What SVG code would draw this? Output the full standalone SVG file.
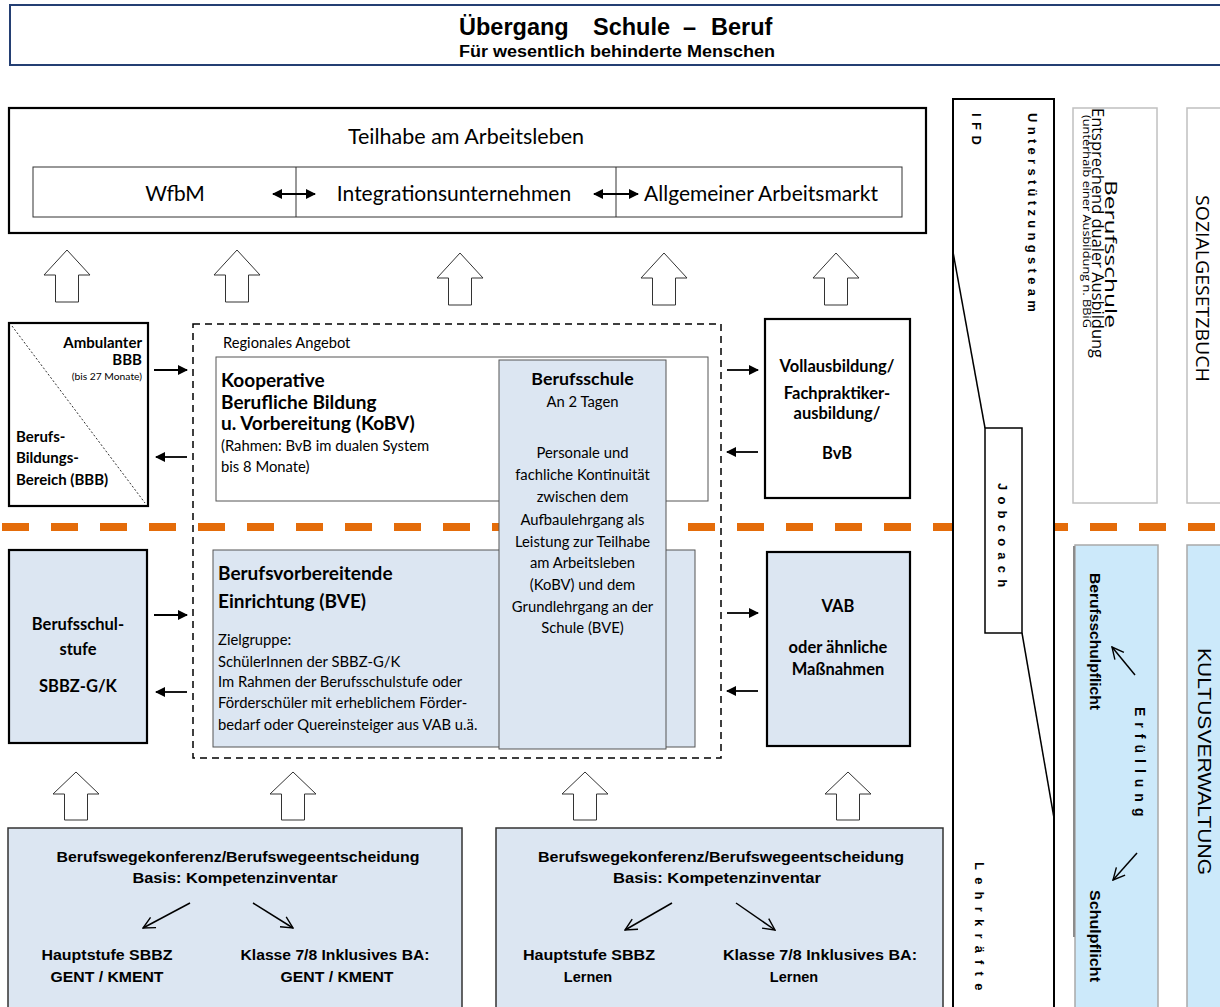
<svg xmlns="http://www.w3.org/2000/svg" width="1220" height="1007" viewBox="0 0 1220 1007">
<style>
.cal{font-family:Lato,"Open Sans","Liberation Sans",sans-serif;fill:#000}
.ar{font-family:"Liberation Sans",Arial,sans-serif;fill:#000}
.os{font-family:"Open Sans","Liberation Sans",sans-serif;fill:#000}
.b{font-weight:bold}
.mid{text-anchor:middle}
.end{text-anchor:end}
.thick{fill:#fff;stroke:#000;stroke-width:2.2}
.thickblue{fill:#dce6f2;stroke:#000;stroke-width:2.2}
.thin{fill:#fff;stroke:#555;stroke-width:1}
.thinblue{fill:#dce6f2;stroke:#555;stroke-width:1}
.blk{fill:#fff;stroke:#333;stroke-width:1}
.arr{stroke:#000;stroke-width:1.8;fill:none}
.varr{stroke:#000;stroke-width:1.5;fill:none}
.orange{stroke:#e46c0a;stroke-width:8;stroke-dasharray:27 22;fill:none}
.body{font-size:14.8px}
.head{font-size:19px;font-weight:bold}
.lab{font-size:16.5px;font-weight:bold}
</style>
<defs>
<marker id="ah" viewBox="0 0 10 10" refX="9" refY="5" markerWidth="11" markerHeight="10" markerUnits="userSpaceOnUse" orient="auto-start-reverse"><path d="M0,0 L10,5 L0,10 z" fill="#000"/></marker>
<marker id="vh" viewBox="0 0 12 12" refX="11" refY="6" markerWidth="14" markerHeight="14" markerUnits="userSpaceOnUse" orient="auto"><path d="M1,1 L11,6 L1,11" fill="none" stroke="#000" stroke-width="1.2"/></marker>
</defs>
<rect x="0" y="0" width="1220" height="1007" fill="#fff"/>

<g id="title">
<rect x="10" y="5" width="1216" height="60" fill="#fff" stroke="#243f73" stroke-width="2"/>
<text class="ar b" font-size="23.5" x="459" y="35">Übergang</text>
<text class="ar b" font-size="23.5" x="593" y="35">Schule</text>
<text class="ar b" font-size="23.5" x="683" y="35">–</text>
<text class="ar b" font-size="23.5" x="711" y="35">Beruf</text>
<text class="ar b mid" font-size="16" x="617" y="57" textLength="316" lengthAdjust="spacingAndGlyphs">Für wesentlich behinderte Menschen</text>
</g>

<g id="orange-line">
<line class="orange" x1="2" y1="527" x2="953" y2="527"/>
<line class="orange" x1="1041" y1="527" x2="1220" y2="527"/>
</g>

<g id="teilhabe">
<rect class="thick" x="9" y="108" width="917" height="125"/>
<text class="cal mid" font-size="21.5" x="466" y="144">Teilhabe am Arbeitsleben</text>
<rect x="33" y="167" width="869" height="50" fill="#fff" stroke="#333" stroke-width="1"/>
<line x1="296" y1="167" x2="296" y2="217" stroke="#333" stroke-width="1"/>
<line x1="616" y1="167" x2="616" y2="217" stroke="#333" stroke-width="1"/>
<text class="cal mid" font-size="21" x="175" y="201">WfbM</text>
<text class="cal mid" font-size="21" x="454" y="201">Integrationsunternehmen</text>
<text class="cal mid" font-size="21" x="761" y="201">Allgemeiner Arbeitsmarkt</text>
</g>

<g id="ambulant">
<rect class="thick" x="9" y="323" width="139" height="183"/>
<line x1="12" y1="326" x2="145" y2="503" stroke="#333" stroke-width="1" stroke-dasharray="2 2"/>
<text class="cal b end" font-size="15" x="142" y="348">Ambulanter</text>
<text class="cal b end" font-size="15" x="142" y="365">BBB</text>
<text class="cal end" font-size="10.3" x="142" y="380">(bis 27 Monate)</text>
<text class="cal b" font-size="15" x="16" y="442">Berufs-</text>
<text class="cal b" font-size="15" x="16" y="463">Bildungs-</text>
<text class="cal b" font-size="15" x="16" y="485">Bereich (BBB)</text>
</g>

<g id="regionales-angebot">
<rect x="193" y="324" width="528" height="434" fill="none" stroke="#000" stroke-width="1.5" stroke-dasharray="7 5"/>
<text class="cal" font-size="14.7" x="223" y="348">Regionales Angebot</text>
</g>

<g id="kobv">
<rect class="thin" x="216" y="357" width="492" height="144"/>
<text class="cal head" x="221" y="387">Kooperative</text>
<text class="cal head" x="221" y="409">Berufliche Bildung</text>
<text class="cal head" x="221" y="430">u. Vorbereitung (KoBV)</text>
<text class="cal body" x="221" y="451">(Rahmen: BvB im dualen System</text>
<text class="cal body" x="221" y="472">bis 8 Monate)</text>
</g>

<g id="bve">
<rect class="thinblue" x="213" y="550" width="482" height="197"/>
<text class="cal head" x="218" y="580">Berufsvorbereitende</text>
<text class="cal head" x="218" y="608">Einrichtung (BVE)</text>
<text class="cal body" x="218" y="645">Zielgruppe:</text>
<text class="cal body" x="218" y="667">SchülerInnen der SBBZ-G/K</text>
<text class="cal body" x="218" y="687">Im Rahmen der Berufsschulstufe oder</text>
<text class="cal body" x="218" y="708">Förderschüler mit erheblichem Förder-</text>
<text class="cal body" x="218" y="730">bedarf oder Quereinsteiger aus VAB u.ä.</text>
</g>

<g id="berufsschule-box">
<rect class="thinblue" x="499" y="360" width="167" height="389"/>
<text class="cal b mid" font-size="17.8" x="582.5" y="385">Berufsschule</text>
<text class="cal body mid" x="582.5" y="407">An 2 Tagen</text>
<text class="cal body mid" x="582.5" y="458">Personale und</text>
<text class="cal body mid" x="582.5" y="480">fachliche Kontinuität</text>
<text class="cal body mid" x="582.5" y="502">zwischen dem</text>
<text class="cal body mid" x="582.5" y="525">Aufbaulehrgang als</text>
<text class="cal body mid" x="582.5" y="547">Leistung zur Teilhabe</text>
<text class="cal body mid" x="582.5" y="568">am Arbeitsleben</text>
<text class="cal body mid" x="582.5" y="590">(KoBV) und dem</text>
<text class="cal body mid" x="582.5" y="612">Grundlehrgang an der</text>
<text class="cal body mid" x="582.5" y="633">Schule (BVE)</text>
</g>

<g id="vollausbildung">
<rect class="thick" x="765" y="319" width="145" height="179"/>
<text class="cal lab mid" x="837" y="372">Vollausbildung/</text>
<text class="cal lab mid" x="837" y="399">Fachpraktiker-</text>
<text class="cal lab mid" x="837" y="419">ausbildung/</text>
<text class="cal lab mid" x="837" y="459">BvB</text>
</g>

<g id="berufsschulstufe">
<rect class="thickblue" x="9" y="550" width="138" height="193"/>
<text class="cal lab mid" x="78" y="630">Berufsschul-</text>
<text class="cal lab mid" x="78" y="655">stufe</text>
<text class="cal lab mid" x="78" y="692">SBBZ-G/K</text>
</g>

<g id="vab">
<rect class="thickblue" x="767" y="552" width="143" height="194"/>
<text class="cal lab mid" x="838" y="612">VAB</text>
<text class="cal lab mid" x="838" y="653">oder ähnliche</text>
<text class="cal lab mid" x="838" y="675">Maßnahmen</text>
</g>

<g id="bwk-gent">
<rect x="8" y="828" width="454" height="185" fill="#dce6f2" stroke="#333" stroke-width="1.5"/>
<text class="ar b mid" font-size="14.5" x="238" y="862" textLength="363" lengthAdjust="spacingAndGlyphs">Berufswegekonferenz/Berufswegeentscheidung</text>
<text class="ar b mid" font-size="14.5" x="235" y="883" textLength="205" lengthAdjust="spacingAndGlyphs">Basis: Kompetenzinventar</text>
<text class="ar b mid" font-size="14.5" x="107" y="960" textLength="131" lengthAdjust="spacingAndGlyphs">Hauptstufe SBBZ</text>
<text class="ar b mid" font-size="14.5" x="107" y="982" textLength="113" lengthAdjust="spacingAndGlyphs">GENT / KMENT</text>
<text class="ar b mid" font-size="14.5" x="335" y="960" textLength="189" lengthAdjust="spacingAndGlyphs">Klasse 7/8 Inklusives BA:</text>
<text class="ar b mid" font-size="14.5" x="337" y="982" textLength="113" lengthAdjust="spacingAndGlyphs">GENT / KMENT</text>
</g>

<g id="bwk-lernen">
<rect x="496" y="828" width="447" height="185" fill="#dce6f2" stroke="#333" stroke-width="1.5"/>
<text class="ar b mid" font-size="14.5" x="721" y="862" textLength="366" lengthAdjust="spacingAndGlyphs">Berufswegekonferenz/Berufswegeentscheidung</text>
<text class="ar b mid" font-size="14.5" x="717" y="883" textLength="208" lengthAdjust="spacingAndGlyphs">Basis: Kompetenzinventar</text>
<text class="ar b mid" font-size="14.5" x="589" y="960" textLength="132" lengthAdjust="spacingAndGlyphs">Hauptstufe SBBZ</text>
<text class="ar b mid" font-size="14.5" x="588" y="982">Lernen</text>
<text class="ar b mid" font-size="14.5" x="820" y="960" textLength="194" lengthAdjust="spacingAndGlyphs">Klasse 7/8 Inklusives BA:</text>
<text class="ar b mid" font-size="14.5" x="794" y="982">Lernen</text>
</g>

<g id="unterstuetzungsteam">
<rect x="953" y="99" width="101" height="915" fill="#fff" stroke="#000" stroke-width="2"/>
<line x1="953" y1="252" x2="985" y2="428" stroke="#000" stroke-width="1.5"/>
<line x1="1022" y1="633" x2="1054" y2="818" stroke="#000" stroke-width="1.5"/>
<text class="ar b" font-size="13" letter-spacing="4.3" transform="translate(1028,113) rotate(90)">Unterstützungsteam</text>
<text class="ar b" font-size="13" letter-spacing="5.5" transform="translate(972,113) rotate(90)">IFD</text>
<text class="ar b" font-size="13" letter-spacing="7.2" transform="translate(975,862) rotate(90)">Lehrkräfte</text>
</g>

<g id="jobcoach">
<rect x="985" y="428" width="37" height="205" fill="#fff" stroke="#000" stroke-width="1.5"/>
<text class="ar b" font-size="13" letter-spacing="6.2" transform="translate(998,483) rotate(90)">Jobcoach</text>
</g>

<g id="col-berufsschule">
<rect x="1073" y="108" width="84" height="395" fill="#fff" stroke="#c0c0c0" stroke-width="1.5"/>
<text class="os" font-size="17" textLength="148" lengthAdjust="spacingAndGlyphs" transform="translate(1105,180) rotate(90)">Berufsschule</text>
<text class="os" font-size="16" textLength="250" lengthAdjust="spacingAndGlyphs" transform="translate(1092,108) rotate(90)">Entsprechend dualer Ausbildung</text>
<text class="os" font-size="11" textLength="213" lengthAdjust="spacingAndGlyphs" transform="translate(1083,115) rotate(90)">(unterhalb einer Ausbildung n. BBiG</text>
</g>

<g id="col-sozialgesetzbuch">
<rect x="1187" y="108" width="40" height="395" fill="#fff" stroke="#c0c0c0" stroke-width="1.5"/>
<text class="os" font-size="18" textLength="187" lengthAdjust="spacingAndGlyphs" transform="translate(1196,195) rotate(90)">SOZIALGESETZBUCH</text>
</g>

<g id="col-schulpflicht">
<rect x="1075" y="545" width="83" height="470" fill="#cce9fa" stroke="#a9a9a9" stroke-width="1.5"/>
<line x1="1074" y1="546" x2="1074" y2="937" stroke="#8c8c8c" stroke-width="2"/>
<text class="ar b" font-size="15" textLength="137" lengthAdjust="spacingAndGlyphs" transform="translate(1090,573) rotate(90)">Berufsschulpflicht</text>
<text class="ar b" font-size="14" letter-spacing="6" transform="translate(1135,707) rotate(90)">Erfüllung</text>
<text class="ar b" font-size="15" textLength="92" lengthAdjust="spacingAndGlyphs" transform="translate(1090,890) rotate(90)">Schulpflicht</text>
</g>

<g id="col-kultusverwaltung">
<rect x="1187" y="545" width="40" height="470" fill="#cce9fa" stroke="#a9a9a9" stroke-width="1.5"/>
<text class="ar" font-size="19" textLength="227" lengthAdjust="spacingAndGlyphs" transform="translate(1198,648) rotate(90)">KULTUSVERWALTUNG</text>
</g>

<g id="connectors">
<polygon class="blk" points="67,250 90,275 78.5,275 78.5,302 55.5,302 55.5,275 44,275"/>
<polygon class="blk" points="237,250 260,275 248.5,275 248.5,302 225.5,302 225.5,275 214,275"/>
<polygon class="blk" points="460,253 483,278 471.5,278 471.5,305 448.5,305 448.5,278 437,278"/>
<polygon class="blk" points="664,253 687,278 675.5,278 675.5,305 652.5,305 652.5,278 641,278"/>
<polygon class="blk" points="836,253 859,278 847.5,278 847.5,305 824.5,305 824.5,278 813,278"/>
<polygon class="blk" points="76,772 99,794 87.5,794 87.5,820 64.5,820 64.5,794 53,794"/>
<polygon class="blk" points="293,772 316,794 304.5,794 304.5,820 281.5,820 281.5,794 270,794"/>
<polygon class="blk" points="585,772 608,794 596.5,794 596.5,820 573.5,820 573.5,794 562,794"/>
<polygon class="blk" points="848,772 871,794 859.5,794 859.5,820 836.5,820 836.5,794 825,794"/>
<line class="arr" x1="273" y1="194" x2="315" y2="194" marker-start="url(#ah)" marker-end="url(#ah)"/>
<line class="arr" x1="594" y1="194" x2="638" y2="194" marker-start="url(#ah)" marker-end="url(#ah)"/>
<line class="arr" x1="154" y1="370" x2="187" y2="370" marker-end="url(#ah)"/>
<line class="arr" x1="187" y1="457" x2="156" y2="457" marker-end="url(#ah)"/>
<line class="arr" x1="154" y1="615" x2="187" y2="615" marker-end="url(#ah)"/>
<line class="arr" x1="187" y1="692" x2="156" y2="692" marker-end="url(#ah)"/>
<line class="arr" x1="727" y1="370" x2="758" y2="370" marker-end="url(#ah)"/>
<line class="arr" x1="758" y1="452" x2="727" y2="452" marker-end="url(#ah)"/>
<line class="arr" x1="727" y1="613" x2="758" y2="613" marker-end="url(#ah)"/>
<line class="arr" x1="758" y1="691" x2="727" y2="691" marker-end="url(#ah)"/>
<line class="varr" x1="190" y1="903" x2="143" y2="928" marker-end="url(#vh)"/>
<line class="varr" x1="253" y1="903" x2="293" y2="928" marker-end="url(#vh)"/>
<line class="varr" x1="672" y1="903" x2="625" y2="930" marker-end="url(#vh)"/>
<line class="varr" x1="736" y1="903" x2="775" y2="930" marker-end="url(#vh)"/>
<line class="varr" x1="1135" y1="675" x2="1112" y2="647" marker-end="url(#vh)"/>
<line class="varr" x1="1137" y1="853" x2="1113" y2="880" marker-end="url(#vh)"/>
</g>
</svg>
